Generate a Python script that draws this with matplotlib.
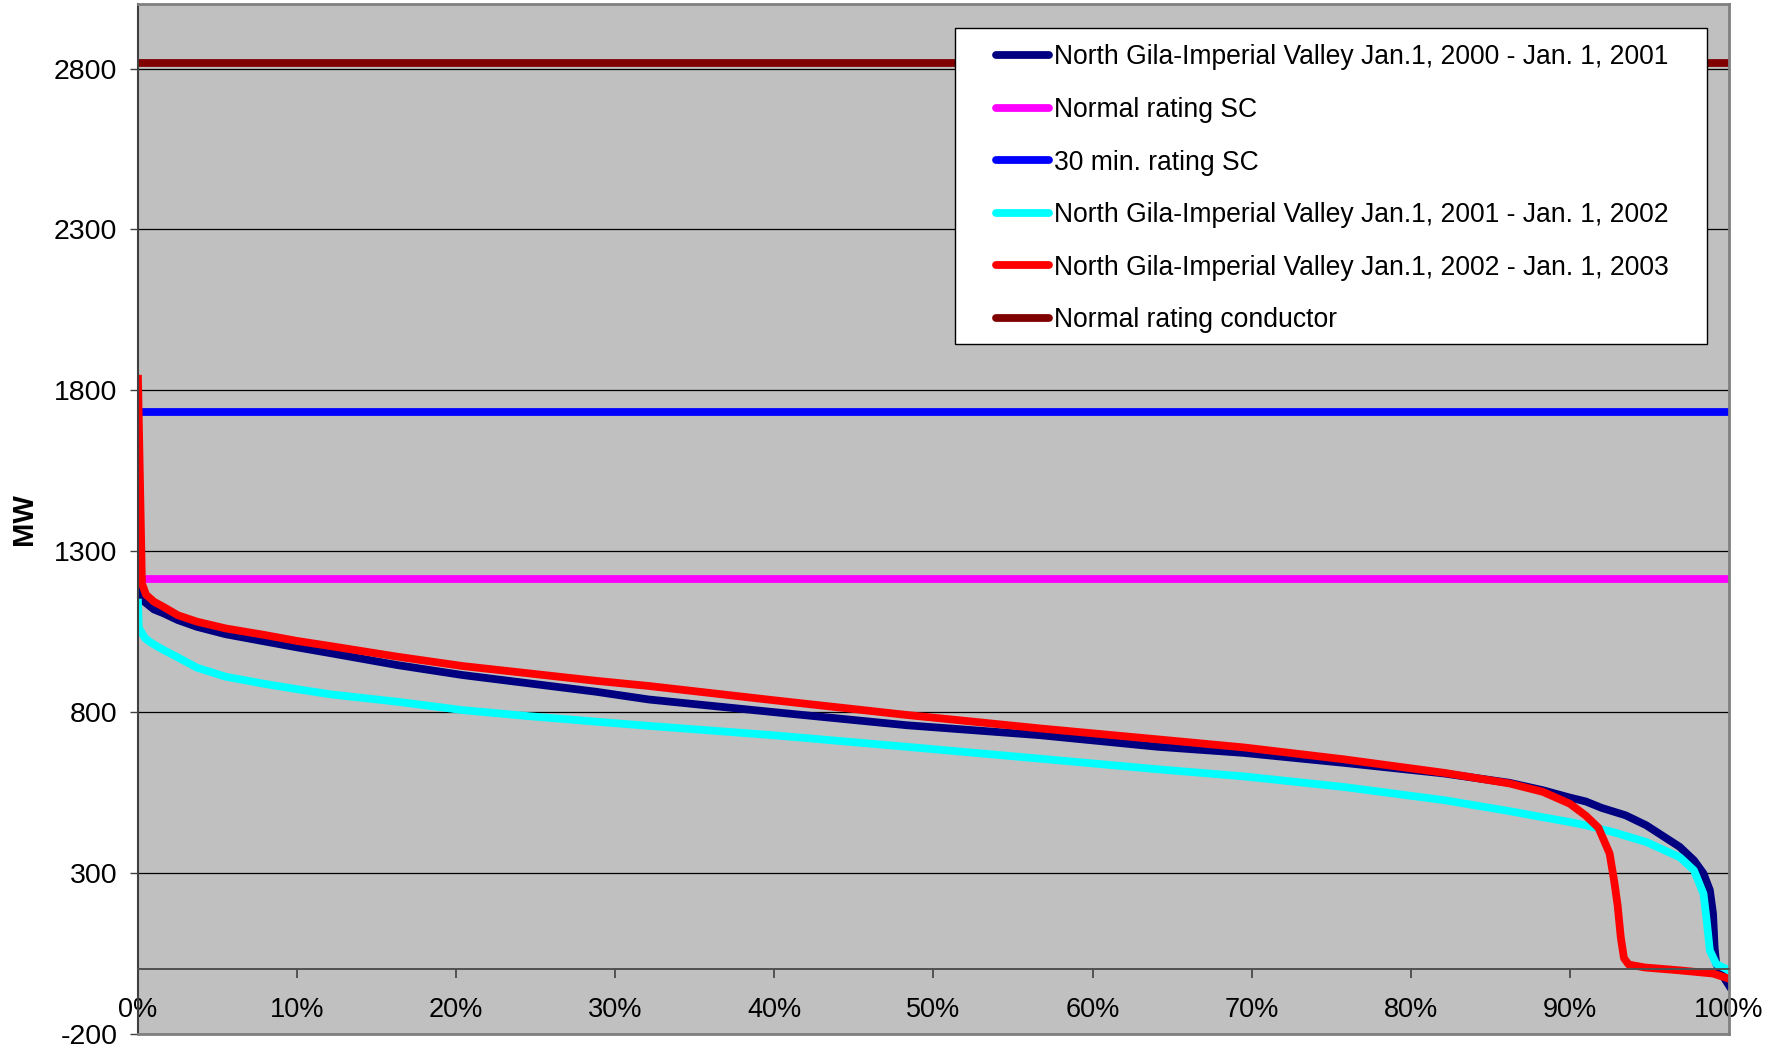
"""Load duration curves for the North Gila - Imperial Valley line, 2000-2003."""

import matplotlib

matplotlib.use("Agg")
import matplotlib.pyplot as plt
from matplotlib.patches import Rectangle
from matplotlib.ticker import MultipleLocator, PercentFormatter

plt.rcParams["font.family"] = ["Liberation Sans", "DejaVu Sans"]
plt.rcParams["axes.unicode_minus"] = False

# percent of hours in the year (x) and flow in MW (y)
x_2000 = [0, 0.4, 1.0, 1.6, 2.5, 3.7, 5.5, 7.9, 10.0, 12.1, 16.3, 20.4, 24.6, 28.8, 32.1,
          39.9, 48.3, 56.7, 64.1, 69.5, 75.8, 82.1, 86.2, 88.3, 90.0, 91.0, 92.0, 93.5,
          94.8, 96.9, 97.8, 98.4, 98.8, 99.0, 99.1, 99.2, 99.6, 100]
mw_2000 = [1185, 1143, 1119, 1107, 1086, 1065, 1042, 1020, 1001, 983, 946, 915, 889, 863, 839,
           800, 759, 728, 692, 673, 642, 609, 580, 557, 534, 522, 502, 479,
           448, 381, 339, 298, 246, 173, 68, 17, -19, -50]

x_2001 = [0, 0.05, 0.45, 0.75, 1.0, 1.6, 2.5, 3.7, 5.5, 7.9, 10.0, 12.1, 16.3, 20.4, 24.6,
          28.8, 32.1, 39.9, 48.3, 56.7, 64.1, 69.5, 75.8, 82.1, 86.2, 88.3, 90.0, 91.0,
          92.7, 94.8, 96.9, 97.8, 98.4, 98.6, 98.8, 99.2, 100]
mw_2001 = [1140, 1062, 1029, 1018, 1010, 993, 970, 938, 910, 888, 871, 855, 832, 806, 787,
           770, 757, 728, 692, 655, 622, 600, 567, 526, 492, 473, 458, 448,
           427, 396, 349, 308, 235, 152, 59, 17, -3]

x_2002 = [0, 0.25, 0.5, 1.0, 1.6, 2.5, 3.7, 5.5, 7.9, 10.0, 12.1, 16.3, 20.4, 24.6, 28.8,
          32.1, 39.9, 48.3, 56.7, 64.1, 69.5, 75.8, 82.1, 86.2, 88.3, 90.0, 91.0, 91.8,
          92.5, 92.8, 93.0, 93.2, 93.4, 93.7, 94.7, 96.9, 99.0, 100]
mw_2002 = [1836, 1200, 1165, 1143, 1127, 1101, 1081, 1060, 1040, 1021, 1005, 972, 943, 920, 897,
           881, 837, 791, 749, 715, 690, 653, 611, 578, 552, 515, 478, 440,
           360, 270, 200, 100, 35, 15, 6, -3, -13, -29]

rating_x = [0, 100]
normal_rating_sc = [1212, 1212]
rating_30min_sc = [1732, 1732]
normal_rating_conductor = [2817, 2817]

series = [
    (x_2000, mw_2000, "#000080", "North Gila-Imperial Valley Jan.1, 2000 - Jan. 1, 2001"),
    (rating_x, normal_rating_sc, "#FF00FF", "Normal rating SC"),
    (rating_x, rating_30min_sc, "#0000FF", "30 min. rating SC"),
    (x_2001, mw_2001, "#00FFFF", "North Gila-Imperial Valley Jan.1, 2001 - Jan. 1, 2002"),
    (x_2002, mw_2002, "#FF0000", "North Gila-Imperial Valley Jan.1, 2002 - Jan. 1, 2003"),
    (rating_x, normal_rating_conductor, "#800000", "Normal rating conductor"),
]


def main() -> None:
    fig = plt.figure(figsize=(17.85, 10.5), dpi=100)
    ax = fig.add_axes([0.0773, 0.0155, 0.8913, 0.9804])
    ax.set_facecolor("#C0C0C0")

    for xs, ys, color, label in series:
        ax.plot(xs, ys, color=color, lw=5.6, label=label, solid_joinstyle="round")

    ax.set_xlim(0, 100)
    ax.set_ylim(-200, 3000)
    ax.xaxis.set_major_locator(MultipleLocator(10))
    ax.xaxis.set_major_formatter(PercentFormatter(xmax=100, decimals=0))
    ax.set_yticks(range(-200, 3000, 500))
    ax.yaxis.grid(True, color="black", lw=0.9)
    ax.set_axisbelow(True)

    ax.spines["bottom"].set_position(("data", 0))
    ax.spines["bottom"].set_color("#505050")
    ax.spines["bottom"].set_linewidth(1.4)
    ax.spines["left"].set_color("#404040")
    ax.spines["left"].set_linewidth(1.5)
    for side in ("top", "right"):
        ax.spines[side].set_color("#808080")
        ax.spines[side].set_linewidth(2)
    ax.axhline(-200, color="#808080", lw=2, clip_on=False, zorder=3)

    ax.tick_params(axis="x", direction="out", length=6.5, width=1.2, color="#404040",
                   pad=13.5, labelsize=19.5)
    ax.tick_params(axis="y", direction="out", length=5.8, width=1.0, color="#404040",
                   pad=9, labelsize=20.5)
    ax.set_ylabel("MW", fontsize=21, fontweight="bold")
    ax.yaxis.set_label_coords(-0.063, 0.5)

    # white legend box, drawn separately so the handles sit where the original has them
    ax.add_patch(Rectangle((0.5135, 0.670), 0.473, 0.3065, transform=ax.transAxes,
                           facecolor="white", edgecolor="black", lw=1.0, zorder=5))
    leg = ax.legend(loc="upper left", bbox_to_anchor=(0.5393, 0.961), frameon=False,
                    borderpad=0, borderaxespad=0, fontsize=19.1, handlelength=2.0,
                    handletextpad=0.2, labelspacing=1.0)
    leg.set_zorder(6)
    for line in leg.get_lines():
        line.set_solid_capstyle("round")

    fig.savefig("out.png", dpi=100, facecolor="white")
    plt.close(fig)


if __name__ == "__main__":
    main()
